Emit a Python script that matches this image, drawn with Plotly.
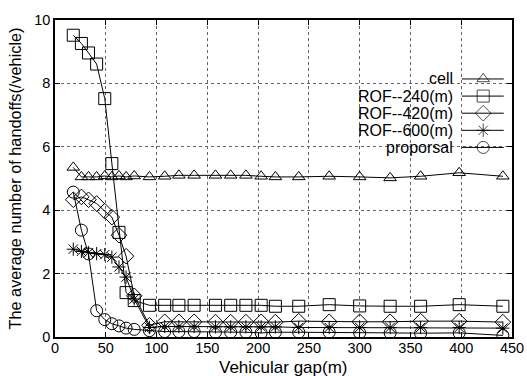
import plotly.graph_objects as go

# ---- data ----
gap = [18, 26, 33, 41, 49, 56, 63, 70, 78, 93, 108, 122, 137, 158, 173, 188,
       203, 217, 240, 270, 300, 330, 360, 398, 441]

cell = [5.35, 5.05, 5.05, 5.05, 5.08, 5.05, 5.08, 5.05, 5.08, 5.05, 5.07, 5.1,
        5.1, 5.1, 5.1, 5.1, 5.07, 5.05, 5.05, 5.07, 5.05, 5.02, 5.07, 5.18, 5.07]
rof240 = [9.52, 9.26, 8.96, 8.61, 7.52, 5.47, 3.3, 1.4, 1.15, 1.0, 1.0, 1.0,
          1.0, 1.0, 1.0, 1.0, 1.0, 0.97, 0.97, 1.02, 0.98, 0.97, 0.97, 1.02, 0.97]
rof420 = [4.33, 4.42, 4.33, 4.21, 3.97, 3.78, 3.21, 2.55, 1.3, 0.37, 0.48, 0.48,
          0.48, 0.47, 0.47, 0.47, 0.48, 0.47, 0.5, 0.48, 0.48, 0.48, 0.5, 0.5, 0.47]
rof600 = [2.77, 2.70, 2.66, 2.63, 2.6, 2.52, 2.21, 1.89, 1.2, 0.3, 0.33, 0.33,
          0.33, 0.32, 0.32, 0.32, 0.32, 0.32, 0.3, 0.3, 0.3, 0.3, 0.3, 0.3, 0.28]
proposal = [4.57, 3.37, 2.62, 0.83, 0.55, 0.42, 0.35, 0.28, 0.24, 0.2, 0.17, 0.17,
            0.17, 0.15, 0.15, 0.15, 0.13, 0.15, 0.15, 0.15, 0.13, 0.13, 0.12, 0.13, 0.05]

names = ["cell", "ROF--240(m)", "ROF--420(m)", "ROF--600(m)", "proporsal"]
series = [cell, rof240, rof420, rof600, proposal]
symbols = ["triangle-up-open", "square-open", "diamond-open", "asterisk-open", "circle-open"]
sizes = [11, 12, 12, 11, 12]

x_ticks = list(range(0, 451, 50))
y_ticks = list(range(0, 11, 2))

FONT = "Liberation Sans, Arial, Helvetica, sans-serif"

fig = go.Figure()
for nm, ys, sym, sz in zip(names, series, symbols, sizes):
    fig.add_trace(go.Scatter(
        x=gap, y=ys, name=nm, mode="lines+markers",
        line=dict(color="black", width=1),
        marker=dict(symbol=sym, size=sz, color="black",
                    line=dict(color="black", width=1)),
        showlegend=False, xaxis="x", yaxis="y"))

# gnuplot-style key: text right-aligned, sample line with symbol on the right
key_text_x = 0.872
key_x0, key_xm, key_x1 = 0.890, 0.937, 0.982
key_rows = [0.814, 0.760, 0.706, 0.652, 0.598]
for nm, sym, sz, ky in zip(names, symbols, sizes, key_rows):
    fig.add_trace(go.Scatter(
        x=[key_x0, key_xm, key_x1], y=[ky, ky, ky], mode="lines+markers",
        line=dict(color="black", width=1),
        marker=dict(symbol=sym, size=[0, sz, 0], color="black",
                    line=dict(color="black", width=1)),
        showlegend=False, xaxis="x2", yaxis="y2", hoverinfo="skip"))
    fig.add_annotation(x=key_text_x, y=ky, xref="paper", yref="paper",
                       text=nm, showarrow=False, xanchor="right", yanchor="middle",
                       borderpad=0,
                       font=dict(family=FONT, size=16, color="black"))

fig.add_shape(type="rect", xref="paper", yref="paper",
              x0=0.685, x1=0.995, y0=0.570, y1=0.840,
              fillcolor="white", line=dict(width=0), layer="between")

axis_common = dict(
    showline=True, linecolor="black", linewidth=1.5, mirror="ticks",
    ticks="inside", ticklen=5, tickwidth=1, tickcolor="black",
    showgrid=True, gridcolor="#666666", gridwidth=1, griddash="dot",
    zeroline=False,
    tickfont=dict(family=FONT, size=14.5, color="black"),
)

fig.update_layout(
    width=527, height=376,
    margin=dict(l=55, r=15, t=20, b=39, autoexpand=False),
    paper_bgcolor="white", plot_bgcolor="white",
    font=dict(family=FONT, size=15, color="black"),
    xaxis=dict(range=[0, 450], tickvals=x_ticks, ticklabelstandoff=-3, **axis_common),
    yaxis=dict(range=[0, 10], tickvals=y_ticks, **axis_common,
               title=dict(text="The average number of handoffs(/vehicle)", standoff=9,
                          font=dict(family=FONT, size=16.3))),
    xaxis2=dict(range=[0, 1], overlaying="x", visible=False, fixedrange=True),
    yaxis2=dict(range=[0, 1], overlaying="y", visible=False, fixedrange=True),
)

# x-axis title placed like the reference (just under the tick labels)
fig.add_annotation(x=0.5, y=0, xref="paper", yref="paper", yshift=-30,
                   text="Vehicular gap(m)", showarrow=False,
                   xanchor="center", yanchor="middle", borderpad=0,
                   font=dict(family=FONT, size=17, color="black"))

fig.write_html("out.html", config={"displayModeBar": False},
               post_script="document.body.style.margin='0';document.body.style.padding='0';")
